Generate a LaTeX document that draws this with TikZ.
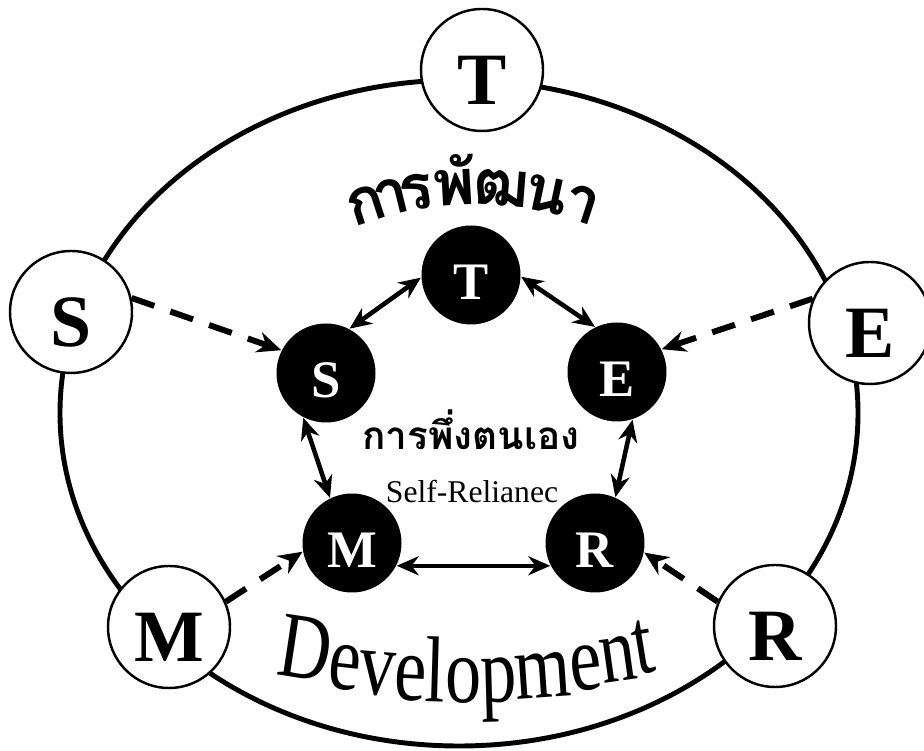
\documentclass[tikz,border=0pt]{standalone}
\usepackage{fontspec}
\setmainfont{Liberation Serif}
\newfontfamily\thaifont[Script=Thai]{Loma}
\usetikzlibrary{arrows.meta}
\begin{document}
\begin{tikzpicture}[>={Stealth[length=2.2mm,width=1.9mm]},
    outer/.style ={circle, draw, line width=0.7pt, fill=white, inner sep=0pt, minimum size=12.2mm, text height=7mm, text depth=0mm, font=\fontsize{21}{21}\selectfont\bfseries},
    inner/.style ={circle, fill=black, text=white, inner sep=0pt, minimum size=9.9mm, text height=4.9mm, text depth=0mm, font=\fontsize{15}{15}\selectfont\bfseries},
    dashlink/.style ={line width=1.7pt, dash pattern=on 2.4mm off 1.7mm, -{Stealth[length=2.4mm,width=2.1mm]}},
    biarrow/.style ={line width=1.3pt, <->},
    thailetter/.style ={anchor=base, inner sep=0pt, font=\fontsize{18}{18}\thaifont\bfseries},
    devletter/.style ={anchor=base, inner sep=0pt, font=\fontsize{20.5}{20.5}\selectfont}]
   \useasboundingbox (0,0) rectangle (9.24,7.51);
   \draw[line width=1.4pt] (4.59,3.38) ellipse (3.99 and 3.33);
   \node[outer] (oT) at (4.82,6.81) {T};
   \node[outer] (oS) at (0.71,4.39) {S};
   \node[outer] (oE) at (8.70,4.28) {E};
   \node[outer] (oM) at (1.69,1.24) {M};
   \node[outer] (oR) at (7.75,1.25) {R};
   \node[inner] (iT) at (4.71,4.76) {T};
   \node[inner] (iS) at (3.26,3.78) {S};
   \node[inner] (iE) at (6.17,3.79) {E};
   \node[inner] (iM) at (3.52,2.08) {M};
   \node[inner] (iR) at (5.95,2.08) {R};
   \draw[dashlink] (oS.13) to (iS.153);
   \draw[dashlink] (oE.157) to (iE.27);
   \draw[dashlink] (oM.24) to (iM.190);
   \draw[dashlink] (oR.157) to (iR.349);
   \draw[biarrow] (iT.183) to (iS.62);
   \draw[biarrow] (iT.-2) to (iE.116);
   \draw[biarrow] (iS.243) to (iM.116);
   \draw[biarrow] (iE.288) to (iR.66);
   \draw[biarrow] (iM.-27) to (iR.207);
   \node[anchor=base, inner sep=0pt, font=\fontsize{11}{11}\thaifont\bfseries] (selfth) at (4.71,3.01) {การพึ่งตนเอง};
   \node[anchor=base, inner sep=0pt, font=\fontsize{9}{9}\selectfont] (selfen) at (4.72,2.48) {Self-Relianec};
   \coordinate (thaiarc) at (4.74,2.16);
   \coordinate (devarc) at (4.67,6.08);
   \foreach \ch/\a [count=\i] in {ก/18, า/13.8, ร/9.5, พั/3.3, ฒ/-4.5, น/-12, า/-18}
      \node[rotate=\a, thailetter] (pat\i) at ([shift={(90+\a:3.3)}]thaiarc) {\ch};
   \foreach \ch/\a [count=\i] in {D/-17.2, e/-12.9, v/-9.4, e/-5.9, l/-3.3, o/-0.4, p/3.3, m/8.0, e/12.5, n/16.0, t/18.8}
      \node[rotate={0.5*\a}, devletter] (dev\i) at ([shift={(-90+\a:5.6)}]devarc) {\scalebox{1}[1.3]{\ch}};
\end{tikzpicture}
\end{document}
